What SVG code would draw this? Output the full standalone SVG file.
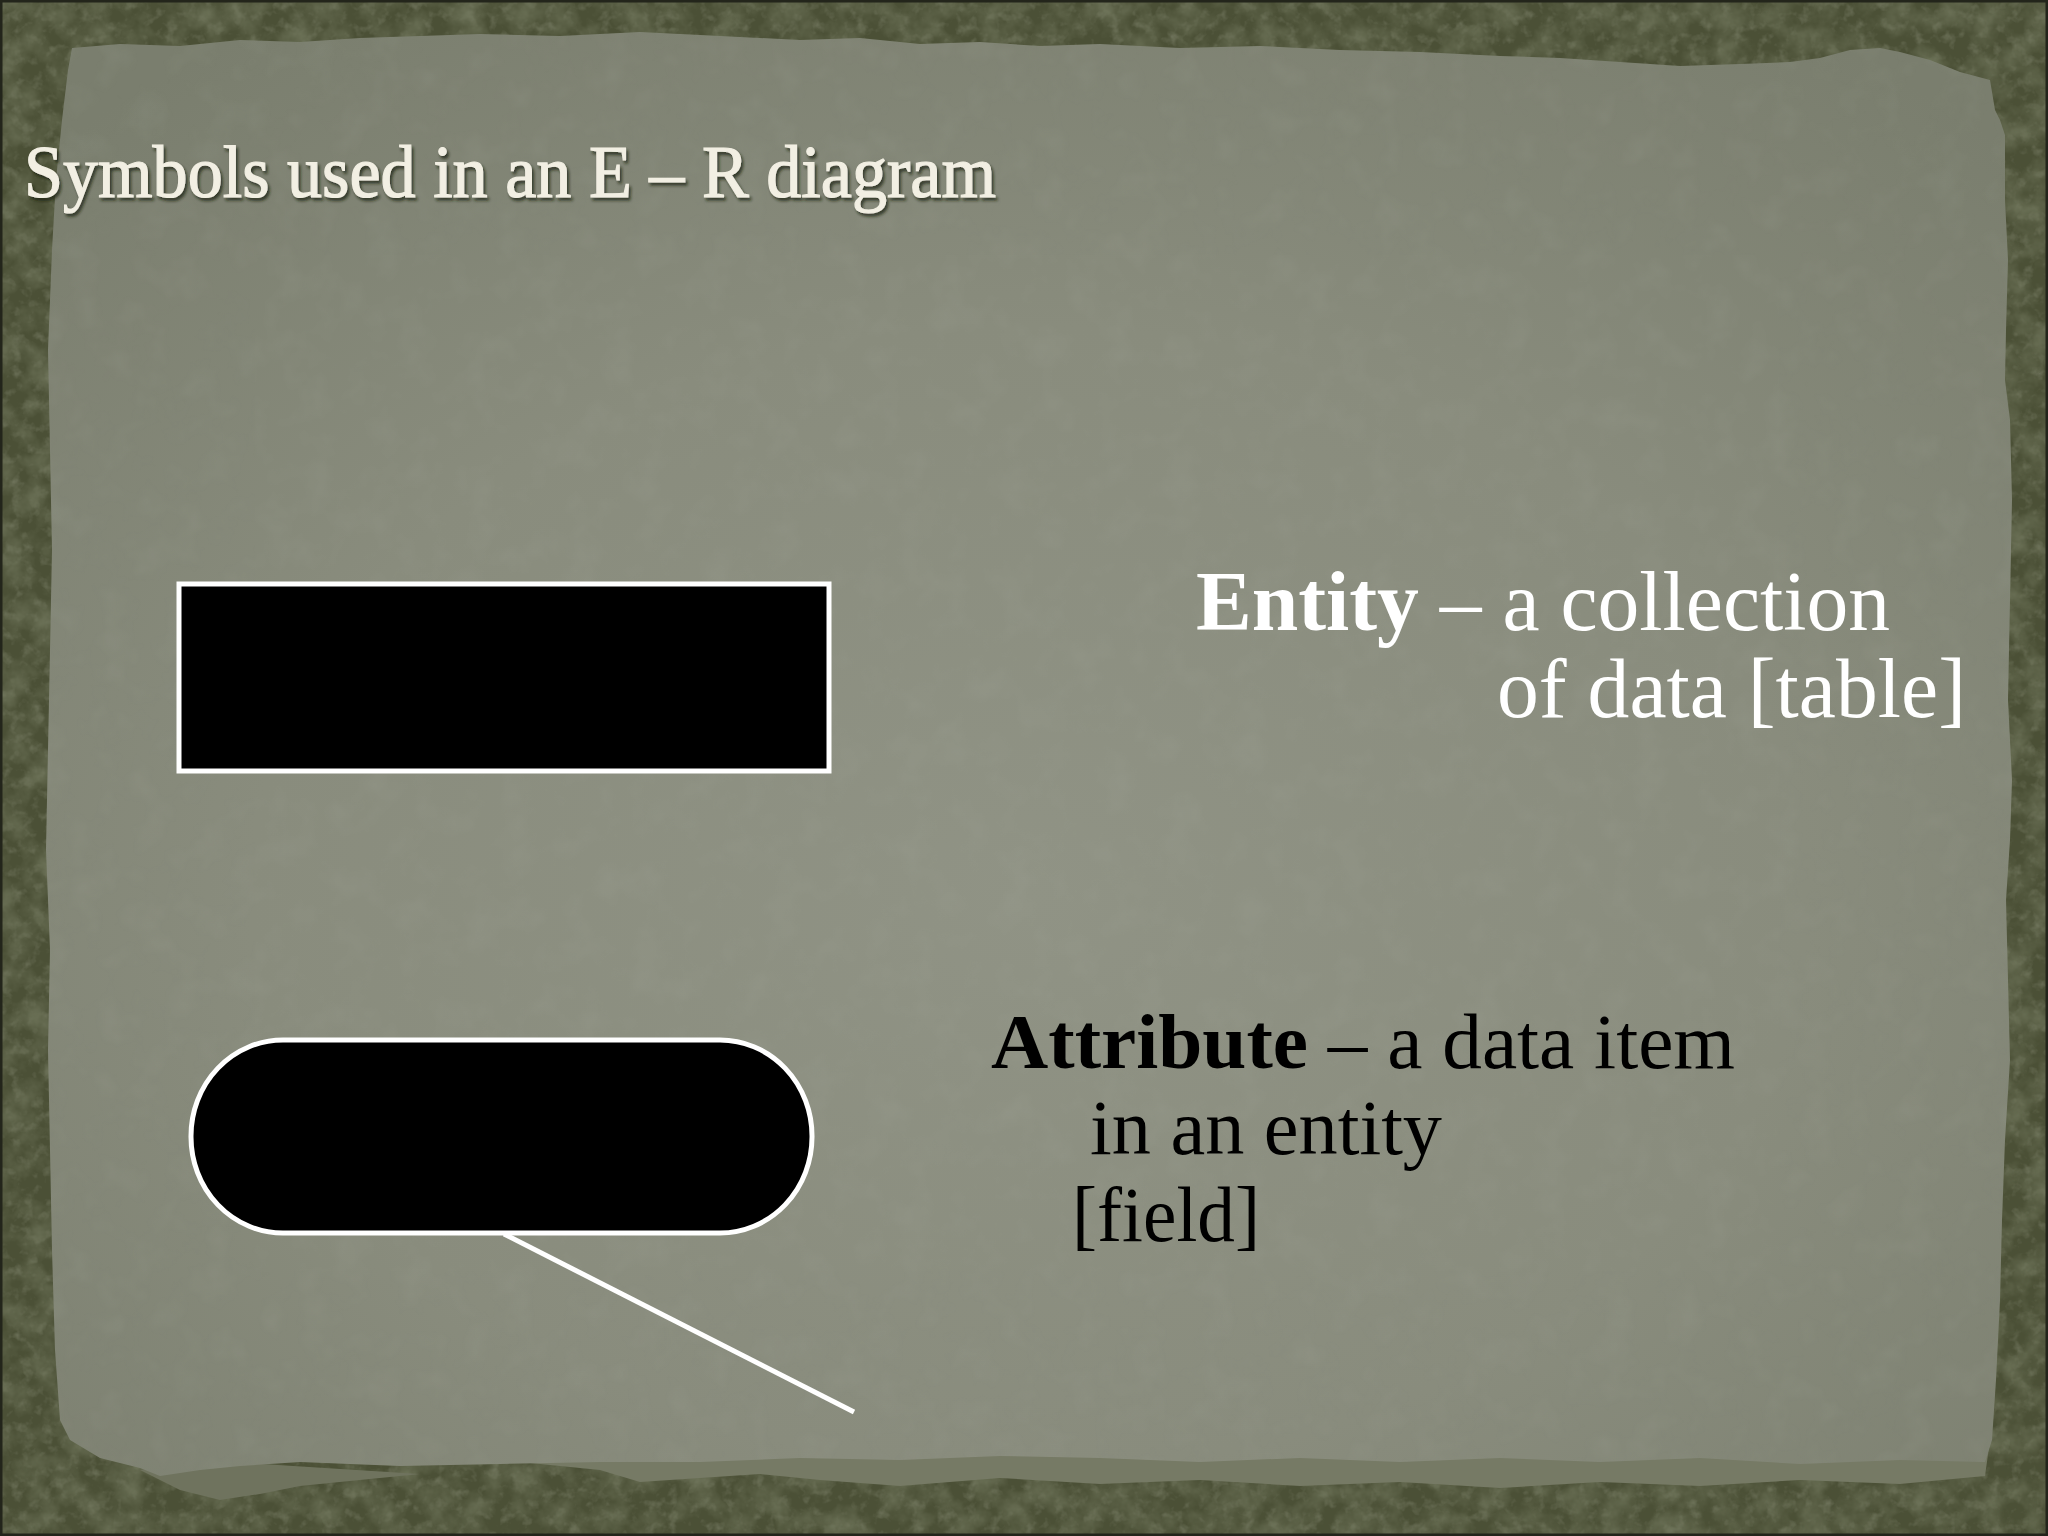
<svg xmlns="http://www.w3.org/2000/svg" width="2048" height="1536" viewBox="0 0 2048 1536">
  <defs>
    <style>
      .title { font-family: "Liberation Serif", "Times New Roman", serif; font-size: 75px; fill: #f2efe3; stroke: #f2efe3; stroke-width: 1.2; }
      .wlabel { font-family: "Liberation Serif", "Times New Roman", serif; font-size: 84px; fill: #ffffff; }
      .blabel { font-family: "Liberation Serif", "Times New Roman", serif; font-size: 78px; fill: #000000; }
      .b { font-weight: bold; }
      .shape { fill: #000000; stroke: #ffffff; stroke-width: 5; }
      .conn { stroke: #ffffff; stroke-width: 5; fill: none; }
    </style>
    <radialGradient id="paperGrad" cx="50%" cy="60%" r="72%">
      <stop offset="0" stop-color="#909385"/>
      <stop offset="0.55" stop-color="#898c7d"/>
      <stop offset="1" stop-color="#7a7e6e"/>
    </radialGradient>
    <filter id="borderNoise" x="0" y="0" width="100%" height="100%">
      <feTurbulence type="fractalNoise" baseFrequency="0.035" numOctaves="4" seed="7"/>
      <feColorMatrix type="matrix" values="0 0 0 0 0.18  0 0 0 0 0.20  0 0 0 0 0.12  1.4 0 0 0 -0.5"/>
    </filter>
    <filter id="borderNoise2" x="0" y="0" width="100%" height="100%">
      <feTurbulence type="fractalNoise" baseFrequency="0.09" numOctaves="3" seed="11"/>
      <feColorMatrix type="matrix" values="0 0 0 0 0.38  0 0 0 0 0.40  0 0 0 0 0.30  0.8 0 0 0 -0.42"/>
    </filter>
    <filter id="paperNoise" x="0" y="0" width="100%" height="100%">
      <feTurbulence type="fractalNoise" baseFrequency="0.03" numOctaves="3" seed="4"/>
      <feColorMatrix type="matrix" values="0 0 0 0 0.42  0 0 0 0 0.44  0 0 0 0 0.38  0.8 0 0 0 -0.36"/>
    </filter>
    <filter id="shadow" x="-5%" y="-20%" width="110%" height="140%">
      <feDropShadow dx="2" dy="3" stdDeviation="1.5" flood-color="#1e2016" flood-opacity="0.75"/>
    </filter>
    <clipPath id="paperClip">
      <path id="paperPath" d="M72,48 L120,44 L180,46 L240,40 L300,42 L360,38 L420,36 L480,34 L560,36 L640,32 L720,36 L800,40 L860,38 L920,44 L980,42 L1040,46 L1100,44 L1180,48 L1260,46 L1340,50 L1420,52 L1500,56 L1560,58 L1620,62 L1680,66 L1740,64 L1790,62 L1820,58 L1850,50 L1880,48 L1900,52 L1930,60 L1960,72 L1990,80 L1995,110 L2000,120 L2005,135 L2005,200 L2008,260 L2006,330 L2005,380 L2010,420 L2012,500 L2010,600 L2008,700 L2012,780 L2010,840 L2006,900 L2008,980 L2010,1060 L2005,1140 L2002,1220 L2000,1300 L1996,1380 L1992,1440 L1985,1462 L1900,1460 L1800,1464 L1700,1458 L1600,1462 L1500,1458 L1400,1462 L1300,1458 L1200,1462 L1100,1458 L1000,1456 L900,1460 L800,1458 L700,1462 L600,1462 L500,1464 L400,1466 L300,1462 L240,1466 L200,1470 L160,1476 L140,1468 L100,1458 L70,1440 L60,1420 L55,1350 L52,1250 L50,1150 L48,1050 L50,950 L46,850 L48,750 L50,650 L52,550 L50,450 L48,350 L52,250 L56,180 L62,120 L68,70 Z"/>
    </clipPath>
  </defs>

  <!-- background border -->
  <g id="background">
    <rect x="0" y="0" width="2048" height="1536" fill="#4b5036"/>
    <rect x="0" y="0" width="2048" height="1536" filter="url(#borderNoise2)"/>
    <rect x="0" y="0" width="2048" height="1536" filter="url(#borderNoise)"/>
    <!-- lighter torn band at bottom -->
    <path d="M120,1440 L300,1450 L420,1458 L520,1462 L600,1470 L640,1482 L700,1478 L760,1474 L820,1480 L900,1486 L1000,1478 L1100,1484 L1200,1480 L1300,1486 L1400,1482 L1500,1488 L1600,1482 L1700,1486 L1800,1480 L1900,1484 L1985,1476 L1990,1440 L120,1440 Z" fill="#767a65"/>
    <path d="M140,1470 L180,1490 L220,1500 L260,1494 L300,1486 L360,1480 L420,1474 L200,1460 Z" fill="#6f735e"/>
    <!-- paper -->
    <use href="#paperPath" fill="url(#paperGrad)"/>
    <rect x="0" y="0" width="2048" height="1536" filter="url(#paperNoise)" clip-path="url(#paperClip)" opacity="0.3"/>
    <rect x="1" y="1" width="2046" height="1534" fill="none" stroke="#23251b" stroke-width="3"/>
  </g>

  <g id="title">
    <text class="title" x="24" y="197" textLength="972" lengthAdjust="spacingAndGlyphs" filter="url(#shadow)">Symbols used in an E – R diagram</text>
  </g>

  <g id="node-entity">
    <rect class="shape" x="179" y="584" width="650" height="187"/>
  </g>

  <g id="node-attribute">
    <rect class="shape" x="191" y="1040" width="621" height="193" rx="92" ry="96"/>
  </g>

  <g id="connectors">
    <line class="conn" x1="504" y1="1234" x2="854" y2="1412"/>
  </g>

  <g id="label-entity">
    <text class="wlabel" x="1196" y="630" textLength="694" lengthAdjust="spacingAndGlyphs"><tspan class="b">Entity</tspan> – a collection</text>
    <text class="wlabel" x="1497" y="717" textLength="469" lengthAdjust="spacingAndGlyphs">of data [table]</text>
  </g>

  <g id="label-attribute">
    <text class="blabel" x="991" y="1068" textLength="744" lengthAdjust="spacingAndGlyphs"><tspan class="b">Attribute</tspan> – a data item</text>
    <text class="blabel" x="1090" y="1154" textLength="352" lengthAdjust="spacingAndGlyphs">in an entity</text>
    <text class="blabel" x="1072" y="1241" textLength="188" lengthAdjust="spacingAndGlyphs">[field]</text>
  </g>
</svg>
